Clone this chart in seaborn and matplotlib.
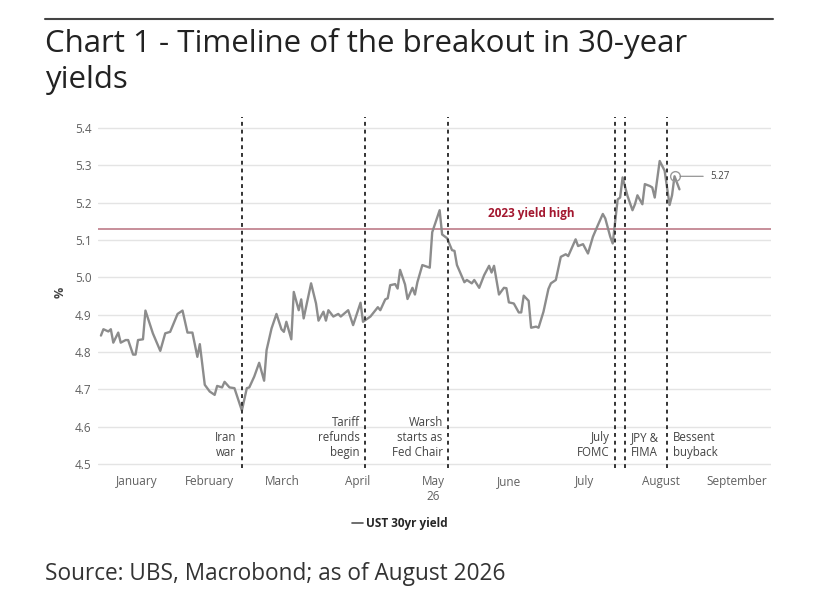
import pandas as pd
import matplotlib.pyplot as plt
from matplotlib.lines import Line2D
import seaborn as sns

# UST 30yr yield, 2026
dates = [
    "01-02", "01-03", "01-05", "01-06", "01-07", "01-09", "01-10", "01-12", "01-13",
    "01-15", "01-16", "01-17", "01-19", "01-20", "01-23", "01-26", "01-28", "01-30",
    "02-02", "02-04", "02-06", "02-08", "02-10", "02-11", "02-13", "02-15", "02-17",
    "02-18", "02-20", "02-21", "02-23", "02-25", "02-28",
    "03-02", "03-03", "03-05", "03-07", "03-09", "03-10", "03-12", "03-14", "03-16",
    "03-17", "03-18", "03-20", "03-21", "03-23", "03-24", "03-25", "03-28", "03-30", "03-31",
    "04-02", "04-03", "04-04", "04-06", "04-08", "04-09", "04-12", "04-14", "04-17",
    "04-18", "04-21", "04-24", "04-25", "04-27", "04-28", "04-29",
    "05-01", "05-02", "05-03", "05-05", "05-06", "05-08", "05-09", "05-10", "05-12",
    "05-15", "05-16", "05-19", "05-20", "05-22", "05-24", "05-25", "05-26", "05-29", "05-30",
    "06-01", "06-02", "06-04", "06-06", "06-08", "06-09", "06-10", "06-12", "06-14",
    "06-15", "06-16", "06-18", "06-20", "06-21", "06-22", "06-24", "06-25", "06-27",
    "06-28", "06-30",
    "07-02", "07-03", "07-05", "07-07", "07-09", "07-10", "07-13", "07-14", "07-16",
    "07-18", "07-20", "07-22", "07-24", "07-25", "07-27", "07-28", "07-30", "07-31",
    "08-01", "08-03", "08-05", "08-06", "08-07", "08-09", "08-10", "08-12", "08-13",
    "08-14", "08-16", "08-18", "08-20", "08-21", "08-22", "08-24",
]
yields = [
    4.844, 4.861, 4.855, 4.861, 4.825, 4.852, 4.825, 4.832, 4.832,
    4.793, 4.793, 4.832, 4.834, 4.911, 4.850, 4.803, 4.850, 4.854,
    4.902, 4.911, 4.852, 4.852, 4.787, 4.821, 4.712, 4.694, 4.685,
    4.709, 4.705, 4.720, 4.705, 4.703, 4.643,
    4.703, 4.705, 4.734, 4.771, 4.723, 4.805, 4.863, 4.902, 4.861,
    4.854, 4.881, 4.834, 4.961, 4.912, 4.941, 4.890, 4.984, 4.930, 4.884,
    4.908, 4.884, 4.912, 4.895, 4.902, 4.895, 4.912, 4.872, 4.932,
    4.881, 4.895, 4.920, 4.912, 4.941, 4.944, 4.979,
    4.982, 4.970, 5.020, 4.981, 4.942, 4.972, 4.954, 4.987, 5.033,
    5.026, 5.121, 5.180, 5.115, 5.105, 5.073, 5.071, 5.033, 4.987, 4.993,
    4.984, 4.993, 4.972, 5.006, 5.031, 5.013, 5.031, 4.954, 4.972,
    4.971, 4.933, 4.930, 4.906, 4.906, 4.951, 4.937, 4.865, 4.868,
    4.865, 4.908,
    4.969, 4.984, 4.993, 5.055, 5.062, 5.057, 5.102, 5.084, 5.089,
    5.064, 5.109, 5.140, 5.170, 5.158, 5.109, 5.091, 5.209, 5.214,
    5.268, 5.218, 5.180, 5.196, 5.220, 5.196, 5.250, 5.245, 5.241,
    5.214, 5.312, 5.286, 5.194, 5.220, 5.271, 5.236,
]

event_labels = ["Iran\nwar", "Tariff\nrefunds\nbegin", "Warsh\nstarts as\nFed Chair",
                "July\nFOMC", "JPY &\nFIMA", "Bessent\nbuyback"]
event_dates = ["02-28", "04-19", "05-22 12:00", "07-29", "08-02", "08-19"]
event_side = ["left", "left", "left", "left", "right", "right"]

month_labels = ["January", "February", "March", "April", "May\n26",
                "June", "July", "August", "September"]

high_2023 = 5.13
marked_date = "08-22"
marked_label = "5.27"

df = pd.DataFrame({"date": pd.to_datetime(["2026-" + d for d in dates]),
                   "yield": yields})

sns.set_style("white")
plt.rcParams["font.family"] = ["Open Sans", "DejaVu Sans"]

fig = plt.figure(figsize=(8.24, 5.98), dpi=100)
ax = fig.add_axes([0.1195, 0.2174, 0.8161, 0.587])

sns.lineplot(data=df, x="date", y="yield", ax=ax, color="#8c8c8c",
             linewidth=1.7, label="UST 30yr yield")

# 2023 high
ax.axhline(high_2023, color="#b8707f", linewidth=1.1, zorder=1)
ax.text(pd.Timestamp("2026-06-25"), 5.172, "2023 yield high", color="#a3172f",
        fontsize=8.5, fontweight="bold", ha="center", va="center")

# event lines
for lab, d, side in zip(event_labels, event_dates, event_side):
    t = pd.Timestamp("2026-" + d)
    ax.axvline(t, color="#333333", linewidth=1.4, linestyle=(0, (2, 2)), zorder=3)
    off = -4 if side == "left" else 4
    ax.annotate(lab, xy=(t, 4.514), xytext=(off, 0), textcoords="offset points",
                ha="right" if side == "left" else "left", va="bottom",
                fontsize=8.3, color="#444444", linespacing=1.2)

# last level marker
pt = df[df["date"] == pd.Timestamp("2026-" + marked_date)].iloc[0]
ax.plot(pt["date"], pt["yield"], marker="o", ms=7, mfc="none", mec="#9a9a9a", mew=1)
ax.annotate(marked_label, xy=(pt["date"], pt["yield"]), xytext=(26, 0),
            textcoords="offset points", ha="left", va="center", fontsize=7,
            color="#444444",
            arrowprops=dict(arrowstyle="-", color="#888888", lw=0.8,
                            shrinkA=3, shrinkB=4))

# axes
month_starts = pd.date_range("2026-01-01", "2026-10-01", freq="MS")
mids = [a + (b - a) / 2 for a, b in zip(month_starts[:-1], month_starts[1:])]
ax.set_xticks(mids)
ax.set_xticklabels(month_labels)
ax.set_xlim(pd.Timestamp("2026-01-01"), pd.Timestamp("2026-09-30"))
ax.set_ylim(4.489, 5.43)
ax.set_yticks([4.5, 4.6, 4.7, 4.8, 4.9, 5.0, 5.1, 5.2, 5.3, 5.4])
ax.set_yticklabels([f"{v:.1f}" for v in ax.get_yticks()])
ax.tick_params(length=0, labelsize=8.5, labelcolor="#606060", pad=5)
ax.set_xlabel("")
ax.set_ylabel("%", fontsize=9, fontweight="bold", color="#444444", labelpad=6)
ax.yaxis.grid(True, color="#e4e4e4", linewidth=1)
ax.xaxis.grid(False)
sns.despine(ax=ax, left=True, bottom=True)

leg = ax.legend(loc="center", bbox_to_anchor=(400 / 824, 1 - 524 / 598),
                bbox_transform=fig.transFigure, frameon=False, handlelength=0.9,
                handletextpad=0.3, prop={"weight": "bold", "size": 8.5})
leg.get_lines()[0].set_color("#555555")
leg.get_lines()[0].set_linewidth(1.2)

# title, rule and source
fig.add_artist(Line2D([45 / 824, 773 / 824], [1 - 19 / 598] * 2, color="#444444", lw=1.5))
fig.text(45 / 824, 1 - 28 / 598, "Chart 1 - Timeline of the breakout in 30-year\nyields",
         fontsize=22.5, color="#222222", va="top", ha="left", linespacing=1.25)
fig.text(45 / 824, 1 - 580 / 598, "Source: UBS, Macrobond; as of August 2026",
         fontsize=16.3, color="#333333", va="baseline", ha="left")

fig.savefig("out.png", dpi=100)
